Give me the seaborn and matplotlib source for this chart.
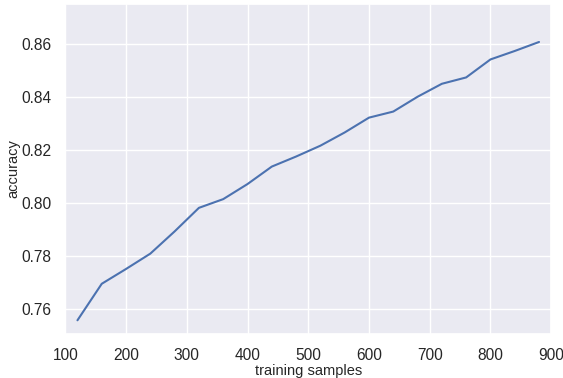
import pandas as pd
import matplotlib
matplotlib.use("Agg")
import matplotlib.pyplot as plt
import seaborn as sns

# Кривая обучения: точность в зависимости от числа обучающих примеров
training_samples = [120, 160, 200, 240, 280, 320, 360, 400, 440, 480,
                    520, 560, 600, 640, 680, 720, 760, 800, 840, 880]
accuracy = [0.7556, 0.7694, 0.7750, 0.7808, 0.7892, 0.7981, 0.8014, 0.8071,
            0.8137, 0.8175, 0.8216, 0.8266, 0.8322, 0.8345, 0.8401, 0.8450,
            0.8474, 0.8542, 0.8574, 0.8608]

data = pd.DataFrame({"training samples": training_samples, "accuracy": accuracy})

sns.set_theme(style="darkgrid")
plt.rcParams["font.family"] = ["Liberation Sans", "DejaVu Sans"]

fig, ax = plt.subplots(figsize=(5.63, 3.78), dpi=100)
sns.lineplot(x="training samples", y="accuracy", data=data, color="#4C72B0",
             linewidth=1.5, ax=ax)
ax.set_xlim(100, 900)
ax.set_ylim(0.7505, 0.8751)
ax.set_yticks([0.76, 0.78, 0.80, 0.82, 0.84, 0.86])
ax.set_yticklabels(["0.76", "0.78", "0.80", "0.82", "0.84", "0.86"])
ax.tick_params(labelsize=11.2, colors="#262626", pad=4)
ax.set_xlabel("training samples", fontsize=10.5, color="#262626", labelpad=1)
ax.set_ylabel("accuracy", fontsize=10.5, color="#262626", labelpad=1)
fig.subplots_adjust(left=0.116, right=0.979, top=0.989, bottom=0.117)
fig.savefig("out.png", dpi=100)
